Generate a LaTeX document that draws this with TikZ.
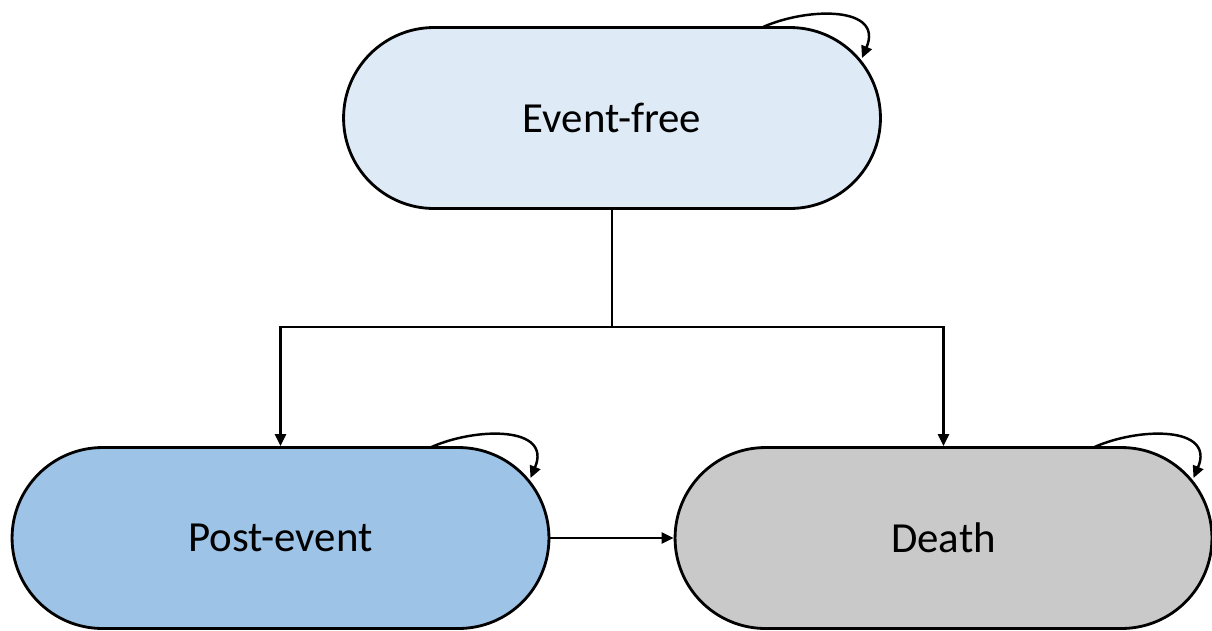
\documentclass[tikz,border=0pt]{standalone}
\usepackage{fontspec}
\setmainfont{Carlito}
\usetikzlibrary{shapes.misc,arrows.meta,calc}
\definecolor{freefill}{HTML}{DEEBF7}
\definecolor{postfill}{HTML}{9DC3E6}
\definecolor{deathfill}{HTML}{C9C9C9}
\tikzset{
  statebox/.style={rounded rectangle, draw=black, line width=1.6pt,
    minimum width=10.74cm, minimum height=3.62cm, inner sep=0pt,
    font=\fontsize{24.4}{29}\selectfont},
  flow/.style={line width=1.4pt, -{Triangle[length=0.24cm,width=0.22cm]}},
  stay/.style={line width=1.4pt, -{Triangle[length=0.24cm,width=0.22cm]}},
}
\begin{document}
\begin{tikzpicture}[x=0.02cm,y=-0.02cm]
  \useasboundingbox (0,0) rectangle (1212,630);
  % states
  \node[statebox, fill=freefill]  (ef) at (612,118) {Event-free};
  \node[statebox, fill=postfill]  (pe) at (280.5,538) {Post-event};
  \node[statebox, fill=deathfill] (de) at (943.5,538) {Death};
  % transitions out of the event-free state
  \coordinate (split) at (612,327);
  \draw[line width=1.4pt] (ef.south) -- (split);
  \draw[flow] (split) -| (pe.north);
  \draw[flow] (split) -| (de.north);
  \draw[flow] (pe.east) -- (de.west);
  % remaining in the same state
  \foreach \s in {ef,pe,de}{
    \draw[stay] ($(\s.center)+(151,-91)$)
      .. controls +(45,-20) and +(22,-52) .. ($(\s.center)+(250,-60)$);
  }
\end{tikzpicture}
\end{document}
